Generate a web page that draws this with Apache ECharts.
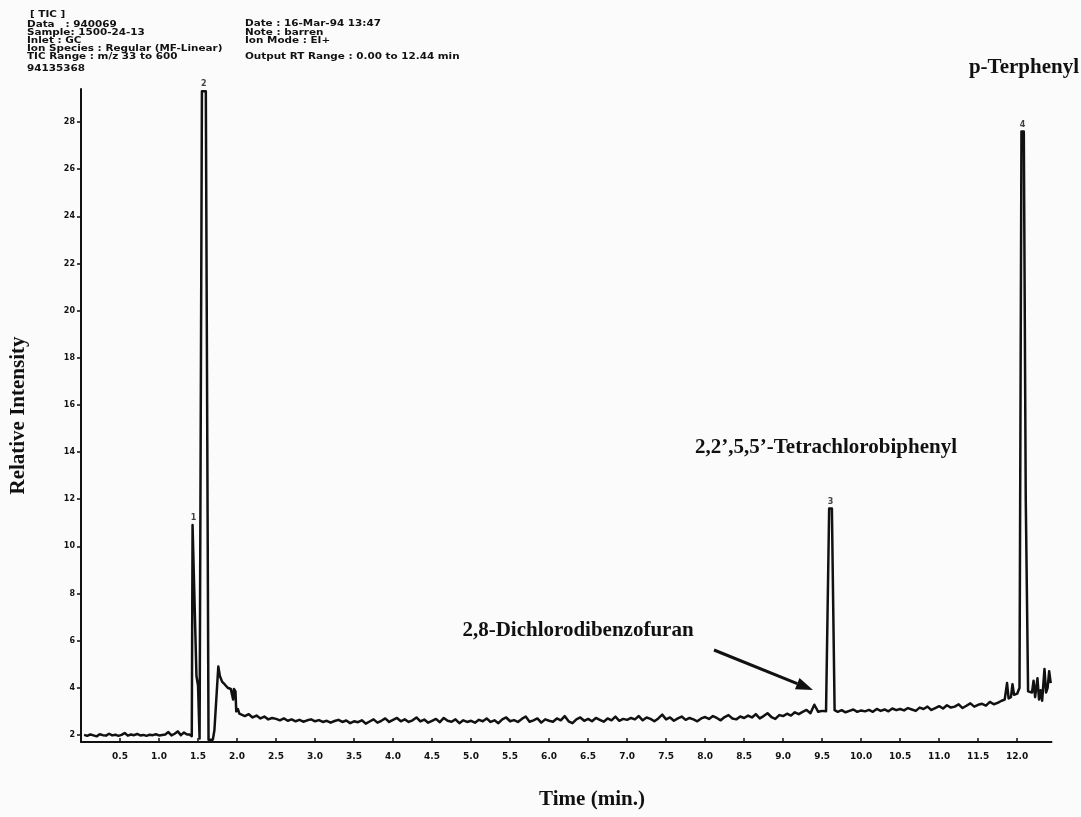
<!DOCTYPE html>
<html>
<head>
<meta charset="utf-8">
<script src="https://cdn.jsdelivr.net/npm/echarts@6/dist/echarts.min.js"></script>
<style>
  html, body { margin: 0; padding: 0; background: #fbfbfb; }
  #chart { width: 1081px; height: 817px; }
</style>
</head>
<body>
<div id="chart"></div>
<script>
// ---- Chromatogram data (TIC, relative intensity vs retention time) ----

// Numbered peaks: label, apex time (min), apex intensity
const peakLabels  = ['1', '2', '3', '4'];
const peakTimes   = [1.443, 1.575, 9.607, 12.07];
const peakHeights = [10.9, 29.3, 11.6, 27.6];

// Axis tick values
const xTickValues = [0.5, 1.0, 1.5, 2.0, 2.5, 3.0, 3.5, 4.0, 4.5, 5.0, 5.5, 6.0,
                     6.5, 7.0, 7.5, 8.0, 8.5, 9.0, 9.5, 10.0, 10.5, 11.0, 11.5, 12.0];
const yTickValues = [2, 4, 6, 8, 10, 12, 14, 16, 18, 20, 22, 24, 26, 28];

// Baseline before the solvent front, sampled every 0.04 min from 0.04 min
const leadStart = 0.04, leadStep = 0.04;
const leadIntensity = [2.00,1.96,2.02,1.98,1.94,2.03,1.99,1.97,2.05,1.98,2.01,1.96,2.00,2.08,1.97,2.02,1.99,
                       2.04,1.98,2.00,1.96,2.01,1.99,2.03,1.98,2.00,2.02,2.12,1.98,2.05,2.15,1.99,2.10,2.02];

// Peaks 1 and 2 with the tail that follows them: [time, intensity]
const solventTrace = [
  [1.39,2.02],[1.42,1.95],[1.43,peakHeights[0]],[1.455,peakHeights[0]],[1.48,4.5],[1.50,4.1],
  [1.52,1.85],[1.535,1.85],[1.55,peakHeights[1]],[1.60,peakHeights[1]],[1.635,1.8],[1.69,1.8],
  [1.71,2.2],[1.76,4.9],[1.78,4.5],[1.81,4.25],[1.84,4.15],[1.86,4.2],[1.88,4.0],[1.90,4.05],
  [1.92,3.95],[1.94,4.0],[1.95,3.5],[1.96,3.95],[1.98,3.85],[1.99,3.0],[2.01,3.1],[2.03,2.9]
];

// Baseline 2.05 – 9.50 min, every 0.05 min
const midStart = 2.05, midStep = 0.05;
const midIntensity = [
  2.95,2.80,2.88,2.74,2.82,2.70,2.78,2.66,2.72,2.68,
  2.62,2.70,2.60,2.66,2.58,2.64,2.56,2.62,2.66,2.58,
  2.63,2.55,2.60,2.52,2.59,2.64,2.55,2.61,2.50,2.58,
  2.54,2.62,2.48,2.57,2.66,2.52,2.60,2.70,2.55,2.64,
  2.72,2.58,2.66,2.55,2.62,2.74,2.57,2.65,2.52,2.60,
  2.68,2.54,2.72,2.60,2.56,2.66,2.50,2.62,2.55,2.60,
  2.52,2.64,2.58,2.70,2.55,2.62,2.50,2.66,2.74,2.58,
  2.63,2.55,2.68,2.78,2.56,2.62,2.70,2.52,2.66,2.60,
  2.56,2.70,2.62,2.80,2.58,2.50,2.66,2.74,2.60,2.68,
  2.58,2.72,2.64,2.56,2.70,2.62,2.78,2.60,2.68,2.64,
  2.72,2.66,2.80,2.62,2.74,2.68,2.58,2.70,2.86,2.66,
  2.74,2.60,2.70,2.78,2.64,2.72,2.66,2.58,2.70,2.76,
  2.68,2.80,2.72,2.62,2.76,2.84,2.70,2.66,2.78,2.72,
  2.82,2.74,2.88,2.70,2.80,2.92,2.76,2.68,2.84,2.80,
  2.90,2.82,2.96,2.88,2.98,3.06,2.92,3.28,2.98,3.02
];

// Peak 3 (2,2',5,5'-tetrachlorobiphenyl)
const peak3Trace = [[9.55,3.00],[9.59,peakHeights[2]],[9.625,peakHeights[2]],[9.66,3.05]];

// Baseline 9.70 – 11.80 min, every 0.05 min
const lateStart = 9.70, lateStep = 0.05;
const lateIntensity = [
  2.98,3.05,2.96,3.02,3.08,2.98,3.04,
  3.00,3.06,2.98,3.10,3.02,3.08,3.00,3.12,3.05,3.10,
  3.04,3.14,3.08,3.02,3.16,3.10,3.20,3.06,3.14,3.22,
  3.12,3.26,3.16,3.20,3.30,3.14,3.24,3.34,3.20,3.28,
  3.32,3.24,3.40,3.30,3.36,3.45
];

// Peak 4 (p-terphenyl) and the end of the run
const terphenylTrace = [
  [11.84,3.50],[11.87,4.20],[11.89,3.55],[11.92,3.60],[11.94,4.15],[11.96,3.70],[12.00,3.75],
  [12.03,4.0],[12.055,peakHeights[3]],[12.085,peakHeights[3]],[12.11,12.0],[12.14,3.85],[12.19,3.80],
  [12.21,4.3],[12.23,3.6],[12.26,4.4],[12.28,3.5],[12.30,3.9],[12.32,3.45],[12.35,4.8],[12.37,3.8],
  [12.39,4.0],[12.41,4.7],[12.43,4.2]
];

// ---- Build the trace ----
function sampled(start, step, values) {
  return values.map((v, i) => [+(start + step * i).toFixed(3), v]);
}
const trace = [].concat(
  sampled(leadStart, leadStep, leadIntensity),
  solventTrace,
  sampled(midStart, midStep, midIntensity),
  peak3Trace,
  sampled(lateStart, lateStep, lateIntensity),
  terphenylTrace
);
const peakMarks = peakLabels.map((lab, i) => [peakTimes[i], peakHeights[i], lab]);

// ---- Chart ----
const INK = '#111';
const tickFont = '"DejaVu Sans", sans-serif';
const serif = '"Liberation Serif", "DejaVu Serif", serif';
const chart = echarts.init(document.getElementById('chart'), null, { renderer: 'canvas' });

// Instrument header (printed in a wide, squat typeface)
const headerLeft = [
  ['[ TIC ]', 30, 15],
  ['Data   : 940069', 27, 25],
  ['Sample: 1500-24-13', 27, 33],
  ['Inlet : GC', 27, 41],
  ['Ion Species : Regular (MF-Linear)', 27, 49],
  ['TIC Range : m/z 33 to 600', 27, 57],
  ['94135368', 27, 69]
];
const headerRight = [
  ['Date : 16-Mar-94 13:47', 245, 24],
  ['Note : barren', 245, 33],
  ['Ion Mode : EI+', 245, 41],
  ['Output RT Range : 0.00 to 12.44 min', 245, 57]
];
const headerText = headerLeft.concat(headerRight).map(([t, x, y]) => ({
  type: 'text', x: x, y: y, scaleX: 1.3,
  style: { text: t, fill: INK, font: 'bold 8px ' + tickFont, textVerticalAlign: 'middle' }
}));

// Arrow pointing at 2,8-dichlorodibenzofuran
const arrowFrom = [714, 650], arrowTo = [813, 690];
const adx = arrowTo[0] - arrowFrom[0], ady = arrowTo[1] - arrowFrom[1];
const alen = Math.hypot(adx, ady), ux = adx / alen, uy = ady / alen;
const headLen = 17, headHalf = 6;
const hb = [arrowTo[0] - ux * headLen, arrowTo[1] - uy * headLen];
const arrowHead = [
  arrowTo,
  [hb[0] - uy * headHalf, hb[1] + ux * headHalf],
  [hb[0] + uy * headHalf, hb[1] - ux * headHalf]
];

chart.setOption({
  backgroundColor: '#fbfbfb',
  animation: false,
  grid: { left: 75, right: 29.5, top: 89, bottom: 75 },
  xAxis: {
    type: 'value', min: 0, max: 12.44,
    axisLine: { show: true, onZero: false, lineStyle: { color: INK, width: 2 } },
    axisTick: { show: true, inside: true, length: 4, lineStyle: { color: INK, width: 1.5 },
                customValues: xTickValues },
    axisLabel: { color: INK, fontSize: 9, fontWeight: 'bold', fontFamily: tickFont, margin: 10,
                 customValues: xTickValues, formatter: v => v.toFixed(1) },
    splitLine: { show: false }
  },
  yAxis: {
    type: 'value', min: 1.7, max: 29.4,
    name: 'Relative Intensity', nameLocation: 'middle', nameGap: 52,
    nameTextStyle: { color: INK, fontSize: 21, fontWeight: 'bold', fontFamily: serif },
    axisLine: { show: true, lineStyle: { color: INK, width: 2 } },
    axisTick: { show: true, length: 4, lineStyle: { color: INK, width: 1.5 },
                customValues: yTickValues },
    axisLabel: { color: INK, fontSize: 8, fontWeight: 'bold', fontFamily: tickFont, margin: 6,
                 customValues: yTickValues },
    splitLine: { show: false }
  },
  series: [
    {
      type: 'line', data: trace, showSymbol: false, symbol: 'none', smooth: false,
      lineStyle: { color: INK, width: 2.5, join: 'round' }, clip: true, z: 3
    },
    {
      type: 'scatter', data: peakMarks, symbolSize: 0,
      label: { show: true, position: 'top', distance: 3, formatter: p => p.data[2],
               color: INK, fontSize: 8, fontWeight: 'bold', fontFamily: tickFont },
      z: 4
    }
  ],
  graphic: headerText.concat([
    { type: 'text', x: 592, y: 800,
      style: { text: 'Time (min.)', fill: INK, font: 'bold 21px ' + serif,
               textAlign: 'center', textVerticalAlign: 'middle' } },
    { type: 'text', x: 1079, y: 68,
      style: { text: 'p-Terphenyl', fill: INK, font: 'bold 21px ' + serif,
               textAlign: 'right', textVerticalAlign: 'middle' } },
    { type: 'text', x: 826, y: 448,
      style: { text: '2,2\u2019,5,5\u2019-Tetrachlorobiphenyl', fill: INK, font: 'bold 21px ' + serif,
               textAlign: 'center', textVerticalAlign: 'middle' } },
    { type: 'text', x: 578, y: 631,
      style: { text: '2,8-Dichlorodibenzofuran', fill: INK, font: 'bold 21px ' + serif,
               textAlign: 'center', textVerticalAlign: 'middle' } },
    { type: 'line', shape: { x1: arrowFrom[0], y1: arrowFrom[1], x2: hb[0], y2: hb[1] },
      style: { stroke: INK, lineWidth: 3 } },
    { type: 'polygon', shape: { points: arrowHead }, style: { fill: INK } }
  ])
});
</script>
</body>
</html>
